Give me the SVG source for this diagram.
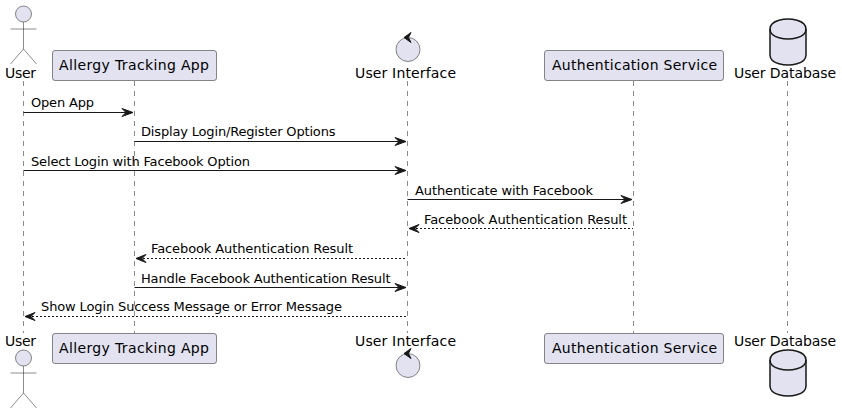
<svg xmlns="http://www.w3.org/2000/svg" width="842" height="414" viewBox="0 0 842 414">
<style>
text{font-family:"DejaVu Sans",sans-serif;fill:#000}
.n{font-size:14px}
.m{font-size:13px}
.life{stroke:#181818;stroke-width:.5;stroke-dasharray:5,5;fill:none}
.msg{stroke:#181818;stroke-width:1;fill:none}
.ret{stroke-dasharray:2,2}
.head{fill:#181818;stroke:#181818;stroke-width:1}
.box{fill:#E2E2F0;stroke:#181818;stroke-width:.5}
.actor{fill:none;stroke:#181818;stroke-width:.5}
.db{fill:#E2E2F0;stroke:#181818;stroke-width:1.5}
.dbl{fill:none;stroke:#181818;stroke-width:1.5}
</style>
<defs>
<g id="actorShape"><circle class="box" cx="23.5" cy="14" r="8"/><path class="actor" d="M23.5 22V49M10.5 29H36.5M23.5 49L10.5 64M23.5 49L36.5 64"/></g>
<g id="controlShape"><circle class="box" cx="408" cy="49.500" r="12"/><polygon fill="#181818" stroke="#181818" stroke-width="1" points="404,37.500 411,32.500 408.500,37.500 411,42.500"/></g>
<g id="dbShape"><path class="db" d="M770 29C770 19 788 19 788 19C788 19 806 19 806 29V55C806 65 788 65 788 65C788 65 770 65 770 55Z"/><path class="dbl" d="M770 29C770 39 788 39 788 39C788 39 806 39 806 29"/></g>
</defs>
<g id="connectors">
<path class="life" d="M23.5 81V333M134.5 81V333M407.5 81V333M633.5 81V333M787.5 81V333"/>
<path class="msg" d="M23.5 112.500H130"/><polygon class="head" points="122,108.500 133,112.500 122,116.500 126,112.500"/>
<path class="msg" d="M134.500 141.500H403"/><polygon class="head" points="395,137.500 406,141.500 395,145.500 399,141.500"/>
<path class="msg" d="M23.500 170.500H403"/><polygon class="head" points="395,166.500 406,170.500 395,174.500 399,170.500"/>
<path class="msg" d="M407.500 199.500H629"/><polygon class="head" points="621,195.500 632,199.500 621,203.500 625,199.500"/>
<path class="msg ret" d="M412 228.500H633"/><polygon class="head" points="419,224.500 409,228.500 419,232.500 415,228.500"/>
<path class="msg ret" d="M139 258.500H407"/><polygon class="head" points="146,254.500 136,258.500 146,262.500 142,258.500"/>
<path class="msg" d="M134.500 287.500H403"/><polygon class="head" points="395,283.500 406,287.500 395,291.500 399,287.500"/>
<path class="msg ret" d="M28 316.500H407"/><polygon class="head" points="35,312.500 25,316.500 35,320.500 31,316.500"/>
</g>
<g id="msg-labels">
<text class="m" x="31" y="107" textLength="63">Open App</text>
<text class="m" x="141" y="136" textLength="194.500">Display Login/Register Options</text>
<text class="m" x="31" y="166" textLength="219">Select Login with Facebook Option</text>
<text class="m" x="415" y="195" textLength="178">Authenticate with Facebook</text>
<text class="m" x="424" y="224" textLength="203">Facebook Authentication Result</text>
<text class="m" x="151" y="253" textLength="202">Facebook Authentication Result</text>
<text class="m" x="141" y="283" textLength="249.500">Handle Facebook Authentication Result</text>
<text class="m" x="41" y="311" textLength="301">Show Login Success Message or Error Message</text>
</g>
<g id="user-top"><use href="#actorShape"/><text class="n" x="5" y="78" textLength="31">User</text></g>
<g id="user-bottom"><use href="#actorShape" y="344"/><text class="n" x="5" y="346" textLength="31">User</text></g>
<g id="app-top"><rect class="box" x="52.500" y="50.500" width="164" height="30" rx="2.500"/><text class="n" x="59" y="70" textLength="150">Allergy Tracking App</text></g>
<g id="app-bottom"><rect class="box" x="52.500" y="333.500" width="164" height="30" rx="2.500"/><text class="n" x="59" y="353" textLength="150">Allergy Tracking App</text></g>
<g id="ui-top"><use href="#controlShape"/><text class="n" x="355" y="78" textLength="101">User Interface</text></g>
<g id="ui-bottom"><use href="#controlShape" y="316"/><text class="n" x="355" y="346" textLength="101">User Interface</text></g>
<g id="auth-top"><rect class="box" x="544.500" y="50.500" width="179" height="30" rx="2.500"/><text class="n" x="552" y="70" textLength="165">Authentication Service</text></g>
<g id="auth-bottom"><rect class="box" x="544.500" y="333.500" width="179" height="30" rx="2.500"/><text class="n" x="552" y="353" textLength="165">Authentication Service</text></g>
<g id="db-top"><use href="#dbShape"/><text class="n" x="734" y="78" textLength="102">User Database</text></g>
<g id="db-bottom"><use href="#dbShape" y="331"/><text class="n" x="734" y="346" textLength="102">User Database</text></g>
</svg>
